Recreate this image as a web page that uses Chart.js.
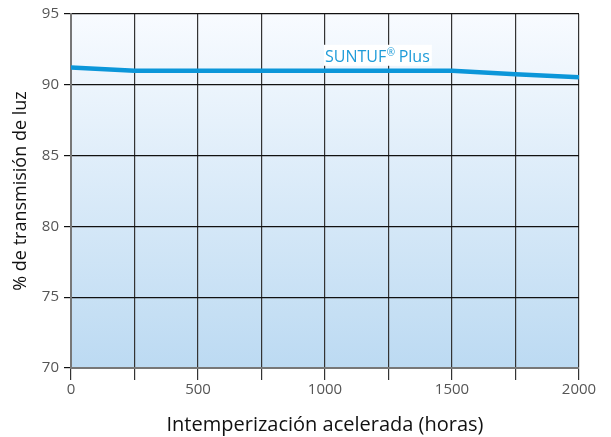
<!DOCTYPE html>
<html>
<head>
<meta charset="utf-8">
<script src="https://cdn.jsdelivr.net/npm/chart.js@4"></script>
<style>
  body { margin: 0; background: #fff; }
  #wrap { width: 611px; height: 437px; }
</style>
</head>
<body>
<div id="wrap"><canvas id="chart"></canvas></div>
<script>
// hours of accelerated weathering
const hours = [0, 250, 500, 750, 1000, 1250, 1500, 1750, 2000];
// light transmission (%)
const transmission = [91.22, 91.0, 91.0, 91.0, 91.0, 91.0, 91.0, 90.75, 90.54];
const seriesName = 'SUNTUF\u00AE Plus';
const yTicks = [70, 75, 80, 85, 90, 95];
const xLabelTicks = [0, 500, 1000, 1500, 2000];

const ctx = document.getElementById('chart').getContext('2d');

// gradient fill behind the plot
const bgPlugin = {
  id: 'bg',
  beforeDraw(chart) {
    const a = chart.chartArea;
    const c = chart.ctx;
    const g = c.createLinearGradient(0, a.top, 0, a.bottom);
    g.addColorStop(0, '#f8fbff');
    g.addColorStop(1, '#bcdaf2');
    c.save();
    c.fillStyle = g;
    c.fillRect(a.left, a.top, a.right - a.left, a.bottom - a.top);
    c.restore();
  }
};

// series name written next to the line, with a small raised (R)
const labelPlugin = {
  id: 'seriesLabel',
  afterDatasetsDraw(chart) {
    const c = chart.ctx;
    const x = chart.scales.x.getPixelForValue(1000);
    const y = chart.scales.y.getPixelForValue(92.05);
    const parts = seriesName.split('\u00AE');
    c.save();
    c.textBaseline = 'alphabetic';
    c.font = '16px "Open Sans"';
    const w1 = c.measureText(parts[0]).width;
    const w3 = c.measureText(parts[1]).width;
    c.font = '10px "Open Sans"';
    const w2 = c.measureText('\u00AE').width;
    c.fillStyle = '#ffffff';
    c.fillRect(x - 1, y - 11, w1 + w2 + w3 + 3, 21);
    c.fillStyle = '#1f9cd9';
    c.font = '16px "Open Sans"';
    c.fillText(parts[0], x, y + 6);
    c.fillText(parts[1], x + w1 + w2, y + 6);
    c.font = '10px "Open Sans"';
    c.fillText('\u00AE', x + w1 + 0.5, y + 0.5);
    c.restore();
  }
};

new Chart(ctx, {
  type: 'line',
  data: {
    labels: hours,
    datasets: [{
      label: seriesName,
      data: hours.map((h, i) => ({ x: h, y: transmission[i] })),
      borderColor: '#0b96d9',
      borderWidth: 4.5,
      pointRadius: 0,
      tension: 0
    }]
  },
  options: {
    responsive: true,
    maintainAspectRatio: false,
    animation: false,
    layout: { padding: { top: 14, right: 32, left: 10, bottom: -4 } },
    plugins: {
      legend: { display: false },
      tooltip: { enabled: false }
    },
    scales: {
      x: {
        type: 'linear',
        min: 0,
        max: 2000,
        afterBuildTicks(axis) {
          axis.ticks = hours.map(v => ({ value: v }));
        },
        afterFit(axis) { axis.height = 73; },
        ticks: {
          autoSkip: false,
          maxRotation: 0,
          padding: 1,
          color: '#555',
          font: { family: 'Open Sans', size: 15 },
          callback: v => xLabelTicks.includes(v) ? String(v) : ''
        },
        grid: {
          color: '#333',
          lineWidth: 1.2,
          tickLength: 12,
          drawTicks: true
        },
        border: { color: '#777', width: 2 },
        title: {
          display: true,
          text: 'Intemperización acelerada (horas)',
          color: '#111',
          font: { family: 'Open Sans', size: 20 },
          padding: { top: 16 }
        }
      },
      y: {
        min: 70,
        max: 95,
        afterBuildTicks(axis) {
          axis.ticks = yTicks.map(v => ({ value: v }));
        },
        afterFit(axis) { axis.width = 61; },
        ticks: {
          padding: 5,
          color: '#555',
          font: { family: 'Open Sans', size: 15 }
        },
        grid: {
          color: '#111',
          lineWidth: 1.2,
          tickLength: 7
        },
        border: { color: '#777', width: 2 },
        title: {
          display: true,
          text: '% de transmisión de luz',
          color: '#111',
          font: { family: 'Open Sans', size: 18 },
          padding: { top: 0, bottom: 2 }
        }
      }
    }
  },
  plugins: [bgPlugin, labelPlugin]
});
</script>
</body>
</html>
